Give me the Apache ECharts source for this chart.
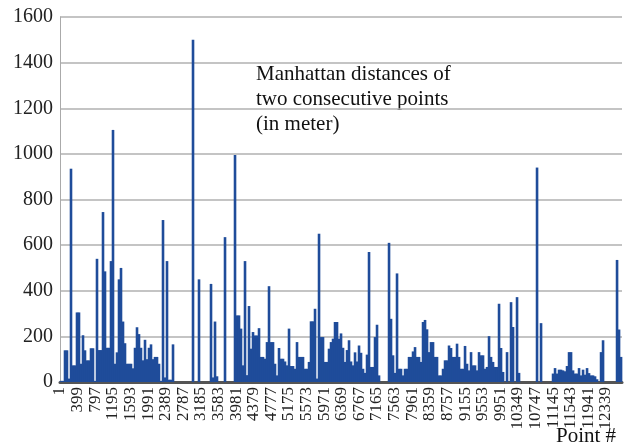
<!DOCTYPE html>
<html>
<head>
<meta charset="utf-8">
<script src="https://cdn.jsdelivr.net/npm/echarts@6/dist/echarts.min.js"></script>
<style>
  html, body { margin: 0; padding: 0; background: #fff; }
  #chart { width: 625px; height: 447px; }
</style>
</head>
<body>
<div id="chart"></div>
<script>
// point numbering: first point, spacing of the sampled values, last point on the axis
const firstPoint = 1
const pointStep = 45.2
const lastPoint = 12701
const labelStep = 398

const distances = [
  5, 5, 139, 139, 15, 935, 73, 73, 305, 305,
  80, 205, 139, 95, 95, 148, 148, 5, 540, 140,
  140, 745, 485, 150, 150, 530, 1105, 80, 130, 450,
  500, 265, 170, 80, 80, 80, 60, 150, 240, 210,
  150, 95, 185, 100, 150, 165, 100, 110, 110, 80,
  5, 710, 20, 530, 10, 10, 165, 0, 0, 0,
  0, 0, 0, 0, 0, 0, 1500, 0, 0, 450,
  0, 0, 0, 0, 0, 430, 20, 265, 25, 0,
  0, 0, 635, 0, 0, 0, 0, 995, 292, 292,
  234, 73, 530, 30, 333, 146, 219, 204, 204, 236,
  110, 110, 102, 175, 420, 175, 175, 80, 29, 149,
  102, 102, 90, 73, 234, 70, 70, 58, 175, 110,
  110, 110, 58, 58, 88, 266, 266, 321, 15, 650,
  197, 197, 88, 88, 146, 175, 190, 263, 263, 190,
  213, 150, 88, 140, 183, 90, 73, 130, 90, 160,
  128, 58, 40, 120, 570, 66, 66, 197, 251, 29,
  0, 0, 0, 0, 610, 277, 117, 40, 476, 58,
  58, 29, 58, 58, 110, 110, 134, 153, 110, 110,
  88, 263, 272, 231, 131, 175, 175, 110, 110, 29,
  29, 58, 95, 95, 160, 149, 110, 110, 168, 110,
  58, 58, 158, 80, 51, 131, 73, 73, 51, 131,
  117, 117, 58, 66, 201, 110, 88, 66, 66, 343,
  149, 44, 0, 131, 0, 350, 241, 0, 372, 40,
  0, 0, 0, 0, 0, 0, 0, 0, 940, 0,
  258, 0, 0, 0, 0, 0, 37, 61, 37, 54,
  54, 51, 47, 70, 131, 131, 51, 37, 37, 61,
  29, 54, 32, 61, 39, 29, 29, 25, 12, 0,
  131, 183, 0, 0, 0, 0, 0, 0, 535, 230,
  110
]

const yMin = 0
const yMax = 1600
const yStep = 200

const noteText = 'Manhattan distances of\ntwo consecutive points\n(in meter)'
const xTitle = 'Point #'

const serif = '"Liberation Serif", "DejaVu Serif", serif'
const barColor = '#1f4c9a'

const seriesData = distances.map((v, i) => [firstPoint + pointStep * (i + 0.5), v])

const chart = echarts.init(document.getElementById('chart'))
chart.setOption({
  animation: false,
  backgroundColor: '#fff',
  grid: { left: 60, top: 17, width: 562, height: 365 },
  xAxis: {
    type: 'value',
    min: firstPoint,
    max: lastPoint,
    interval: labelStep,
    axisLine: { show: true, onZero: false, lineStyle: { color: '#555', width: 3 } },
    axisTick: { show: false },
    splitLine: { show: false },
    axisLabel: {
      rotate: 90,
      margin: 5,
      fontFamily: serif,
      fontSize: 17,
      color: '#222',
      showMaxLabel: false,
      formatter: v => ((v - firstPoint) % labelStep === 0 ? String(v) : '')
    }
  },
  yAxis: {
    type: 'value',
    min: yMin,
    max: yMax,
    interval: yStep,
    axisLine: { show: true, lineStyle: { color: '#aaa', width: 1 } },
    axisTick: { show: false },
    splitLine: { lineStyle: { color: '#b0b0b0', width: 1.5 } },
    axisLabel: {
      margin: 7, fontFamily: serif, fontSize: 20, color: '#222',
      formatter: v => String(v)
    }
  },
  series: [{
    type: 'bar',
    data: seriesData,
    barWidth: 2.6,
    itemStyle: { color: barColor }
  }],
  graphic: [
    {
      type: 'text', left: 256, top: 62,
      style: { text: noteText, font: '21px ' + serif, lineHeight: 25, fill: '#111' }
    },
    {
      type: 'text', left: 556, top: 426,
      style: { text: xTitle, font: '21px ' + serif, fill: '#111' }
    }
  ]
})
</script>
</body>
</html>
